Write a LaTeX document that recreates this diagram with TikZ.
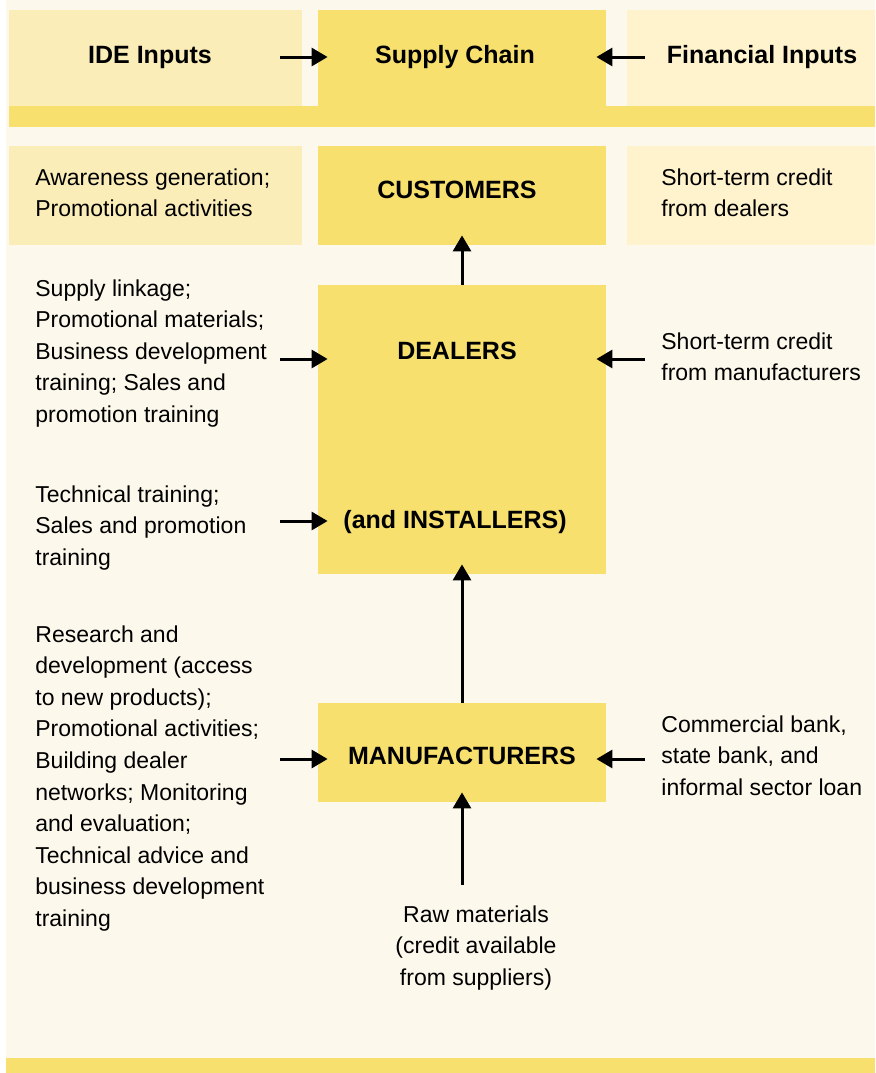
\documentclass[tikz,border=0pt]{standalone}
\usepackage{fontspec}
\setmainfont{Liberation Sans}
\usetikzlibrary{arrows.meta}
\definecolor{paper}{HTML}{FCF8EB}
\definecolor{chain}{HTML}{F7E06D}
\definecolor{ideside}{HTML}{FAEDB8}
\definecolor{finside}{HTML}{FEF3CC}

\begin{document}
\begin{tikzpicture}[x=.5pt,y=-.5pt,
	stage/.style={fill=chain,inner sep=0pt,minimum width=144pt},
	sidebox/.style={inner sep=0pt},
	stagename/.style={inner sep=0pt,anchor=base,font=\fontsize{12.5}{15.8}\selectfont\bfseries},
	inputtext/.style={inner sep=0pt,anchor=base west,align=left,font=\fontsize{11.5}{15.8}\selectfont},
	feed/.style={-{Triangle[length=8pt,width=9pt]},line width=1.5pt,shorten >=-5pt}]
\useasboundingbox (0,0) rectangle (875,1073);
\fill[white] (0,0) rectangle (875,1073);
\fill[paper] (6,0) rectangle (875,1058);
\fill[chain] (6,1058) rectangle (875,1073);
\fill[chain] (9,106) rectangle (875,127);

\path (155.5,58) node[sidebox,fill=ideside,minimum width=146.5pt,minimum height=48pt] (ide) {}
		(462,58) node[stage,minimum height=48pt] (chain) {}
		(751,58) node[sidebox,fill=finside,minimum width=124pt,minimum height=48pt] (fin) {}
		(155.5,195.5) node[sidebox,fill=ideside,minimum width=146.5pt,minimum height=49.5pt] (aware) {}
		(462,195.5) node[stage,minimum height=49.5pt] (customers) {}
		(751,195.5) node[sidebox,fill=finside,minimum width=124pt,minimum height=49.5pt] (dealercredit) {}
		(462,429.5) node[stage,minimum height=144.5pt] (dealers) {}
		(462,752.5) node[stage,minimum height=49.5pt] (makers) {}
		;

\path (150,63) node[stagename] (idetitle) {IDE Inputs}
		(455,63) node[stagename] (chaintitle) {Supply Chain}
		(762,63) node[stagename] (fintitle) {Financial Inputs}
		(457,198) node[stagename] (customertitle) {CUSTOMERS}
		(457,359) node[stagename] (dealertitle) {DEALERS}
		(455,528) node[stagename] (installertitle) {(and INSTALLERS)}
		(462,764) node[stagename] (makertitle) {MANUFACTURERS}
		;

\path (35,216.6) node[inputtext] (awaretext) {Awareness generation;\\Promotional activities}
		(661,216.6) node[inputtext] (dealercredittext) {Short-term credit\\from dealers}
		(35,422.4) node[inputtext] (linktext) {Supply linkage;\\Promotional materials;\\Business development\\training; Sales and\\promotion training}
		(661,380.6) node[inputtext] (makercredittext) {Short-term credit\\from manufacturers}
		(35,565.2) node[inputtext] (techtext) {Technical training;\\Sales and promotion\\training}
		(35,926.4) node[inputtext] (researchtext) {Research and\\development (access\\to new products);\\Promotional activities;\\Building dealer\\networks; Monitoring\\and evaluation;\\Technical advice and\\business development\\training}
		(661,795.2) node[inputtext] (banktext) {Commercial bank,\\state bank, and\\informal sector loan}
		(476,985.2) node[inputtext,anchor=base,align=center] (rawtext) {Raw materials\\(credit available\\from suppliers)}
		;

\coordinate (ideout) at (280,57);
\coordinate (finout) at (645,57);
\coordinate (linkout) at (280,359);
\coordinate (makercreditout) at (645,359);
\coordinate (techout) at (280,521);
\coordinate (researchout) at (280,759);
\coordinate (bankout) at (645,759);
\coordinate (rawout) at (462,885);

\draw[feed] (ideout) -- (ideout -| chain.west);
\draw[feed] (finout) -- (finout -| chain.east);
\draw[feed] (dealers.north) -- (customers.south);
\draw[feed] (linkout) -- (linkout -| dealers.west);
\draw[feed] (makercreditout) -- (makercreditout -| dealers.east);
\draw[feed] (techout) -- (techout -| dealers.west);
\draw[feed] (makers.north) -- (dealers.south);
\draw[feed] (researchout) -- (researchout -| makers.west);
\draw[feed] (bankout) -- (bankout -| makers.east);
\draw[feed] (rawout) -- (rawout |- makers.south);
\end{tikzpicture}
\end{document}
